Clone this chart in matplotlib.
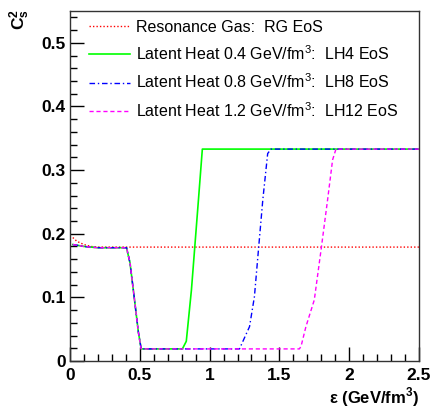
import numpy as np
import matplotlib
matplotlib.use("Agg")
import matplotlib.pyplot as plt
from matplotlib.ticker import MultipleLocator

plt.rcParams['font.family'] = ['Liberation Sans', 'DejaVu Sans']
plt.rcParams['mathtext.fontset'] = 'custom'
plt.rcParams['mathtext.rm'] = 'Liberation Sans'
plt.rcParams['mathtext.bf'] = 'Liberation Sans:bold'

# values: energy density (GeV/fm^3) vs c_s^2
rg_eps = [0.02, 0.05, 0.1, 0.15, 0.2, 0.3, 2.5]
rg_cs2 = [0.194, 0.188, 0.183, 0.180, 0.179, 0.179, 0.179]

# common hadronic part of the latent heat curves
had_eps = [0.02, 0.1, 0.2, 0.3, 0.405, 0.43, 0.46, 0.49, 0.51]
had_cs2 = [0.183, 0.180, 0.178, 0.178, 0.178, 0.154, 0.10, 0.045, 0.019]

lh4_eps = had_eps + [0.805, 0.833, 0.87, 0.92, 0.948, 2.5]
lh4_cs2 = had_cs2 + [0.019, 0.031, 0.112, 0.253, 0.333, 0.333]

lh8_eps = had_eps + [1.214, 1.286, 1.321, 1.352, 1.381, 1.416, 1.44, 2.5]
lh8_cs2 = had_cs2 + [0.019, 0.054, 0.101, 0.180, 0.253, 0.326, 0.333, 0.333]

lh12_eps = had_eps + [1.643, 1.655, 1.69, 1.75, 1.798, 1.845, 1.881, 1.905, 2.5]
lh12_cs2 = had_cs2 + [0.019, 0.023, 0.054, 0.096, 0.174, 0.253, 0.316, 0.333, 0.333]

labels = ['Resonance Gas:  RG EoS',
          r'Latent Heat 0.4 GeV/fm$^{3}$:  LH4 EoS',
          r'Latent Heat 0.8 GeV/fm$^{3}$:  LH8 EoS',
          r'Latent Heat 1.2 GeV/fm$^{3}$:  LH12 EoS']

fig = plt.figure(figsize=(4.3, 4.08), dpi=100)
ax = fig.add_axes([70/430, 1 - 361/408, 349/430, 350/408])

ax.plot(rg_eps, rg_cs2, color='#ff0000', ls=(0, (1, 1.5)), lw=1.0, label=labels[0])
ax.plot(lh4_eps, lh4_cs2, color='#00ff00', ls='-', lw=1.2, label=labels[1])
ax.plot(lh8_eps, lh8_cs2, color='#0000ff', ls=(0, (4, 2, 1, 2)), lw=1.0, label=labels[2])
ax.plot(lh12_eps, lh12_cs2, color='#ff00ff', ls=(0, (3, 2)), lw=1.0, label=labels[3])

ax.set_xlim(0, 2.5)
ax.set_ylim(0, 0.55)
ax.xaxis.set_major_locator(MultipleLocator(0.5))
ax.xaxis.set_minor_locator(MultipleLocator(0.1))
ax.yaxis.set_major_locator(MultipleLocator(0.1))
ax.yaxis.set_minor_locator(MultipleLocator(0.02))
ax.xaxis.set_major_formatter(plt.FuncFormatter(lambda v, p: '%g' % v))
ax.yaxis.set_major_formatter(plt.FuncFormatter(lambda v, p: '%g' % v))
ax.tick_params(which='both', direction='in', top=False, right=False, width=1.0)
ax.tick_params(which='major', length=10, labelsize=12.5)
ax.tick_params(axis='x', which='major', pad=5)
ax.tick_params(axis='y', which='major', pad=3)
ax.tick_params(which='minor', length=5)
for lab in ax.get_xticklabels() + ax.get_yticklabels():
    lab.set_fontweight('bold')
for s in ax.spines.values():
    s.set_linewidth(1.0)
    s.set_color('#333333')

leg = ax.legend(loc='upper left', bbox_to_anchor=(0.012, 1.016), frameon=False,
                fontsize=11.5, handlelength=2.6, labelspacing=0.6, handletextpad=0.4)

fig.text(20/430, 1 - 9/408, r'$\mathbf{C_s^2}$', rotation=90, ha='center', va='top',
         fontsize=12.5)
fig.text(419/430, 1 - 397/408, r'ε (GeV/fm$^\mathbf{3}$)', ha='right', va='center',
         fontsize=12, fontweight='bold')

fig.savefig('out.png', dpi=100)
